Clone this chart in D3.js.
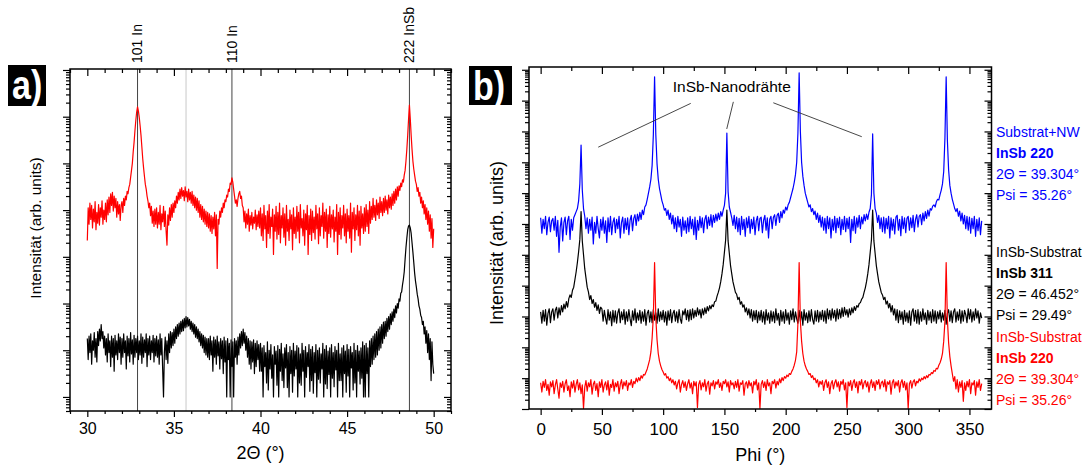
<!DOCTYPE html>
<html>
<head>
<meta charset="utf-8">
<script src="https://cdn.jsdelivr.net/npm/d3@7/dist/d3.min.js"></script>
<style>
  body { margin: 0; background: #fff; }
  text { font-family: "Liberation Sans", Arial, sans-serif; }
</style>
</head>
<body>
<svg id="fig" width="1084" height="466"></svg>
<script>
// ---------------- data ----------------
// a) 2Theta scan, one reading every 0.05 deg from 30 to 50 deg, log10 of the counts
var twoTheta = d3.range(0, 401).map(function(i) { return 30 + i / 20; });

var redA = [
  4.35, 5.05, 4.70, 5.15, 4.80, 5.10, 4.62, 5.02, 4.75, 5.18, 4.58, 4.95, 4.72, 5.12, 4.68, 5.05, 4.85, 5.20, 4.70, 5.00,
  4.80, 5.15, 4.75, 5.22, 4.90, 5.28, 4.95, 5.35, 5.10, 5.38, 4.98, 5.30, 5.05, 5.25, 4.85, 5.18, 4.92, 5.12, 4.78, 5.10,
  5.18, 4.95, 5.25, 5.10, 5.30, 5.22, 5.40, 5.35, 5.48, 5.55, 5.70, 5.85, 6.00, 6.25, 6.45, 6.70, 6.92, 7.10, 7.21, 7.12,
  6.98, 6.80, 6.60, 6.35, 6.10, 5.90, 5.72, 5.55, 5.45, 5.30, 5.20, 5.05, 5.15, 4.88, 5.08, 4.72, 4.98, 4.65, 5.02, 4.70,
  5.05, 4.62, 4.95, 4.70, 5.10, 4.58, 4.92, 4.75, 5.08, 4.65, 4.98, 4.55, 4.25, 4.90, 4.68, 5.05, 4.78, 5.12, 4.85, 5.15,
  4.95, 5.20, 5.05, 5.30, 5.15, 5.38, 5.22, 5.45, 5.25, 5.48, 5.30, 5.42, 5.20, 5.50, 5.28, 5.40, 5.18, 5.45, 5.22, 5.38,
  5.15, 5.40, 5.10, 5.32, 5.05, 5.28, 5.00, 5.25, 4.95, 5.20, 4.85, 5.12, 4.80, 5.08, 4.75, 5.02, 4.70, 4.98, 4.65, 4.95,
  4.62, 4.92, 4.55, 4.88, 4.50, 4.85, 4.60, 4.95, 4.45, 4.90, 3.75, 4.80, 4.70, 4.98, 4.85, 5.05, 4.95, 5.15, 5.05, 5.22,
  5.18, 5.32, 5.28, 5.45, 5.40, 5.58, 5.55, 5.69, 5.60, 5.45, 5.30, 5.15, 5.22, 5.08, 5.25, 5.35, 5.40, 5.25, 5.30, 5.10,
  5.05, 4.75, 4.98, 4.62, 4.92, 4.70, 5.02, 4.55, 4.88, 4.68, 4.95, 4.60, 4.85, 4.72, 5.00, 4.58, 4.90, 4.65, 4.98, 4.62,
  5.05, 4.45, 4.92, 4.35, 5.10, 4.60, 4.88, 4.20, 4.98, 4.50, 5.12, 4.40, 4.85, 4.65, 5.02, 4.05, 4.90, 4.55, 5.08, 4.38,
  4.95, 4.48, 5.15, 4.30, 4.88, 4.62, 5.05, 4.42, 4.92, 4.25, 5.10, 4.55, 4.80, 4.35, 5.00, 4.60, 4.90, 4.15, 5.05, 4.50,
  4.85, 4.40, 5.08, 4.55, 4.95, 4.30, 5.12, 4.62, 4.82, 4.45, 5.00, 4.25, 4.92, 4.58, 5.10, 4.05, 4.88, 4.48, 5.02, 4.35,
  4.98, 4.52, 4.85, 4.38, 5.10, 4.60, 4.92, 4.28, 5.05, 4.45, 4.88, 4.65, 5.15, 4.40, 4.95, 4.55, 5.02, 4.20, 4.90, 4.50,
  5.08, 4.42, 4.90, 4.60, 5.00, 4.32, 4.85, 4.55, 5.12, 4.05, 4.95, 4.48, 5.05, 4.38, 4.88, 4.62, 5.10, 4.45, 4.92, 4.30,
  5.02, 4.55, 4.88, 4.40, 5.15, 4.10, 4.95, 4.60, 5.05, 4.35, 4.90, 4.58, 5.10, 4.45, 4.98, 4.25, 5.08, 4.62, 4.92, 4.50,
  5.05, 4.55, 5.12, 4.65, 5.00, 4.50, 5.18, 4.72, 5.08, 4.80, 5.25, 4.85, 5.10, 4.78, 5.22, 4.90, 5.15, 4.82, 5.28, 4.95,
  5.18, 4.88, 5.25, 4.95, 5.30, 5.00, 5.22, 4.92, 5.32, 5.05, 5.28, 5.02, 5.35, 5.10, 5.40, 5.15, 5.45, 5.22, 5.50, 5.30,
  5.52, 5.42, 5.58, 5.50, 5.65, 5.60, 5.75, 5.85, 6.05, 6.30, 6.60, 6.95, 7.25, 6.95, 6.60, 6.30, 6.05, 5.88, 5.75, 5.62,
  5.55, 5.40, 5.48, 5.30, 5.38, 5.15, 5.28, 5.05, 5.20, 4.92, 5.12, 4.80, 5.05, 4.70, 4.98, 4.55, 4.90, 4.40, 4.82, 4.20,
  4.60
];

var blackA = [
  2.25, 1.80, 2.30, 1.95, 2.35, 1.70, 2.20, 2.00, 2.38, 1.85, 2.25, 1.75, 2.40, 2.10, 2.45, 2.20, 2.55, 2.25, 2.40, 2.05,
  2.30, 1.90, 2.25, 1.75, 2.35, 1.95, 2.20, 1.65, 2.30, 1.85, 2.25, 1.55, 2.32, 1.90, 2.20, 1.80, 2.35, 1.95, 2.28, 1.70,
  2.25, 1.85, 2.35, 1.95, 2.20, 1.60, 2.30, 1.88, 2.25, 1.75, 2.38, 1.92, 2.22, 1.70, 2.32, 1.85, 2.25, 1.95, 2.30, 1.80,
  2.20, 1.90, 2.35, 1.72, 2.28, 1.85, 2.22, 1.95, 2.35, 1.65, 2.25, 1.90, 2.30, 1.80, 2.20, 1.95, 2.32, 1.75, 2.25, 1.88,
  2.30, 1.85, 2.22, 1.70, 2.35, 1.90, 2.25, 1.60, 1.00, 1.95, 2.28, 1.80, 2.20, 1.72, 2.35, 1.95, 2.40, 2.05, 2.38, 2.10,
  2.45, 2.15, 2.50, 2.25, 2.55, 2.30, 2.58, 2.35, 2.62, 2.40, 2.65, 2.42, 2.68, 2.48, 2.72, 2.50, 2.70, 2.52, 2.66, 2.45,
  2.62, 2.40, 2.58, 2.35, 2.55, 2.28, 2.50, 2.25, 2.45, 2.18, 2.40, 2.10, 2.35, 2.05, 2.32, 1.95, 2.28, 1.90, 2.25, 1.85,
  2.25, 1.80, 2.30, 1.90, 2.20, 1.55, 2.28, 1.85, 2.22, 1.70, 2.30, 1.88, 2.18, 1.60, 2.25, 1.82, 2.20, 1.50, 2.28, 1.75,
  2.20, 1.00, 2.25, 1.80, 2.15, 1.00, 2.22, 1.65, 2.18, 1.00, 2.25, 1.85, 2.20, 1.70, 2.28, 1.90, 2.35, 2.05, 2.40, 2.10,
  2.45, 2.15, 2.38, 2.00, 2.30, 1.85, 2.25, 1.70, 2.20, 1.60, 2.18, 1.75, 2.22, 1.50, 2.15, 1.65, 2.20, 1.80, 2.12, 1.55,
  2.15, 1.55, 2.05, 1.00, 2.10, 1.65, 1.95, 1.30, 2.18, 1.15, 2.00, 1.60, 2.12, 1.40, 1.90, 1.00, 2.08, 1.70, 1.98, 1.25,
  2.10, 1.00, 2.02, 1.55, 2.15, 1.35, 1.92, 1.20, 2.05, 1.62, 2.12, 1.20, 1.95, 1.00, 2.08, 1.50, 2.00, 1.10, 2.15, 1.45,
  1.98, 1.60, 2.10, 1.00, 2.05, 1.30, 1.92, 1.25, 2.15, 1.55, 2.00, 1.00, 2.08, 1.42, 1.95, 1.65, 2.12, 1.12, 2.02, 1.35,
  2.08, 1.08, 1.95, 1.52, 2.12, 1.00, 2.00, 1.38, 2.05, 1.30, 1.92, 1.60, 2.15, 1.00, 2.02, 1.28, 2.10, 1.18, 1.98, 1.48,
  2.05, 1.00, 2.12, 1.40, 1.95, 1.22, 2.08, 1.58, 2.00, 1.00, 2.15, 1.35, 1.92, 1.35, 2.05, 1.00, 2.10, 1.50, 1.98, 1.10,
  2.12, 1.45, 2.02, 1.00, 2.08, 1.62, 1.95, 1.15, 2.15, 1.30, 2.00, 1.00, 2.10, 1.55, 1.98, 1.28, 2.05, 1.40, 2.18, 1.00,
  2.10, 1.00, 2.15, 1.50, 2.05, 1.00, 2.20, 1.65, 2.25, 1.70, 2.30, 1.80, 2.35, 1.85, 2.40, 1.90, 2.45, 2.00, 2.50, 2.05,
  2.55, 2.15, 2.60, 2.25, 2.62, 2.30, 2.68, 2.40, 2.72, 2.45, 2.78, 2.55, 2.82, 2.62, 2.88, 2.70, 2.95, 2.80, 3.00, 2.90,
  3.10, 3.05, 3.22, 3.25, 3.40, 3.52, 3.68, 3.95, 4.20, 4.40, 4.58, 4.66, 4.68, 4.62, 4.50, 4.30, 4.10, 3.88, 3.65, 3.48,
  3.35, 3.20, 3.10, 2.95, 2.88, 2.75, 2.70, 2.55, 2.62, 2.35, 2.50, 2.15, 2.42, 1.95, 2.35, 1.80, 2.25, 1.35, 2.18, 1.70,
  1.50
];

// reflex markers in a)
var refPos = [32.9, 35.7, 38.35, 48.6];
var refLabel = ["101 In", "", "110 In", "222 InSb"];
var refColor = ["#444", "#c8c8c8", "#444", "#444"];

// b) Phi scans, one reading per degree from 0 to 360 deg, log10 of the counts
var phi = d3.range(0, 361);

var blueB = [
  6.20, 5.70, 6.15, 5.85, 6.25, 5.65, 6.05, 6.22, 5.75, 6.10,
  6.18, 5.80, 6.25, 5.60, 6.12, 5.08, 5.90, 6.20, 5.45, 6.05,
  6.22, 5.65, 6.10, 6.25, 5.50, 6.15, 5.80, 6.20, 6.30, 6.40,
  6.50, 6.75, 7.30, 8.56, 7.10, 6.50, 6.25, 5.85, 6.20, 5.70,
  6.15, 5.80, 6.22, 5.35, 6.05, 5.70, 6.25, 5.85, 5.55, 6.15,
  5.80, 6.22, 5.70, 6.10, 5.40, 6.20, 5.75, 6.25, 5.65, 6.05,
  6.20, 5.72, 6.15, 5.85, 6.25, 5.55, 6.05, 6.22, 5.70, 6.18,
  5.82, 6.20, 5.65, 6.12, 6.28, 5.78, 6.18, 6.30, 5.95, 6.32,
  6.10, 6.38, 6.15, 6.45, 6.30, 6.55, 6.62, 6.80, 7.00, 7.20,
  7.45, 7.90, 8.90, 10.77, 8.90, 7.95, 7.45, 7.15, 6.95, 6.75,
  6.62, 6.45, 6.50, 6.28, 6.45, 6.15, 6.35, 6.00, 6.28, 5.85,
  6.20, 5.75, 6.25, 5.90, 6.15, 5.60, 6.22, 5.80, 6.10, 5.70,
  6.20, 5.75, 6.25, 5.85, 6.15, 5.65, 6.22, 5.50, 6.12, 5.80,
  6.25, 5.88, 6.20, 5.72, 6.15, 6.28, 5.85, 6.22, 5.95, 6.30,
  5.90, 6.28, 6.05, 6.32, 6.10, 6.35, 6.15, 6.40, 6.25, 6.45,
  6.60, 7.00, 8.95, 7.05, 6.55, 6.38, 6.20, 5.95, 6.28, 5.85,
  6.22, 5.75, 6.18, 5.65, 6.25, 5.82, 6.15, 5.60, 6.20, 5.88,
  6.25, 5.70, 6.15, 5.85, 6.22, 5.65, 6.10, 6.25, 5.78, 6.18,
  6.22, 5.72, 6.12, 6.28, 5.80, 6.20, 5.55, 6.15, 6.25, 5.85,
  6.22, 6.30, 5.95, 6.28, 6.35, 6.05, 6.40, 6.20, 6.45, 6.35,
  6.55, 6.45, 6.62, 6.70, 6.85, 7.00, 7.15, 7.35, 7.60, 8.00,
  8.95, 10.90, 9.00, 8.00, 7.55, 7.25, 7.00, 6.85, 6.70, 6.55,
  6.62, 6.40, 6.50, 6.30, 6.42, 6.15, 6.35, 6.05, 6.28, 5.90,
  6.22, 5.80, 6.18, 5.70, 6.25, 5.85, 6.20, 5.55, 6.15, 5.80,
  6.25, 5.72, 6.18, 5.88, 6.22, 5.65, 6.15, 5.82, 6.25, 5.75,
  6.18, 5.85, 6.22, 5.40, 6.15, 5.78, 6.25, 5.70, 6.20, 5.90,
  6.28, 5.85, 6.22, 6.00, 6.30, 6.10, 6.32, 6.15, 6.38, 6.50,
  6.95, 8.92, 7.00, 6.50, 6.35, 6.05, 6.28, 5.85, 6.20, 5.75,
  6.22, 5.70, 6.18, 5.85, 6.25, 5.55, 6.20, 5.80, 6.15, 5.68,
  6.22, 6.28, 5.80, 6.15, 5.62, 6.25, 5.85, 6.20, 5.72, 6.18,
  6.25, 5.80, 6.20, 5.88, 6.28, 5.75, 6.15, 6.30, 5.90, 6.25,
  6.30, 5.98, 6.35, 6.10, 6.40, 6.18, 6.45, 6.25, 6.50, 6.45,
  6.58, 6.62, 6.55, 6.72, 6.80, 6.78, 6.95, 7.10, 7.30, 7.70,
  8.80, 10.77, 8.70, 7.75, 7.25, 7.00, 6.80, 6.65, 6.50, 6.40,
  6.50, 6.25, 6.42, 6.10, 6.35, 6.00, 6.28, 5.85, 6.25, 5.80,
  6.22, 5.70, 6.18, 5.85, 6.25, 5.60, 6.15, 5.78, 6.20, 5.65,
  6.10
];

var blackB = [
  3.15, 2.78, 3.20, 2.85, 3.22, 2.72, 3.10, 3.25, 2.80, 3.15,
  3.25, 2.88, 3.20, 3.30, 2.95, 3.28, 3.05, 3.35, 3.15, 3.40,
  3.25, 3.48, 3.30, 3.58, 3.70, 3.62, 3.85, 3.95, 4.20, 4.45,
  4.75, 5.10, 5.50, 6.40, 5.45, 5.00, 4.55, 4.25, 3.95, 3.80,
  3.55, 3.68, 3.42, 3.55, 3.30, 3.45, 3.20, 3.38, 3.10, 3.30,
  3.25, 2.85, 3.20, 2.95, 2.75, 3.22, 2.88, 3.15, 2.70, 3.20,
  2.82, 3.18, 2.78, 3.12, 3.25, 2.80, 3.15, 2.90, 3.22, 2.75,
  3.15, 2.85, 3.22, 2.92, 2.70, 3.18, 2.88, 3.25, 2.80, 3.12,
  2.88, 3.20, 2.78, 3.15, 2.85, 3.22, 2.72, 3.10, 3.20, 2.82,
  3.15, 2.80, 3.22, 2.88, 3.12, 2.78, 3.25, 2.85, 3.15, 2.90,
  3.20, 2.82, 3.15, 2.72, 3.18, 2.88, 3.22, 2.80, 3.10, 3.20,
  2.85, 3.15, 2.80, 3.22, 2.92, 2.78, 3.18, 3.05, 3.25, 2.90,
  3.20, 2.85, 3.22, 2.90, 3.25, 2.95, 3.20, 3.00, 3.28, 3.05,
  3.22, 2.95, 3.25, 3.05, 3.28, 3.10, 3.32, 3.18, 3.35, 3.25,
  3.38, 3.32, 3.48, 3.50, 3.66, 3.78, 3.93, 4.13, 4.38, 4.68,
  5.08, 5.48, 6.45, 5.45, 5.05, 4.65, 4.38, 4.12, 3.95, 3.78,
  3.72, 3.55, 3.62, 3.40, 3.48, 3.30, 3.38, 3.15, 3.28, 3.05,
  3.25, 2.95, 3.22, 2.85, 3.18, 2.90, 3.20, 2.80, 3.15, 2.88,
  3.20, 2.82, 3.15, 2.75, 3.22, 2.88, 3.12, 2.78, 3.18, 2.85,
  3.15, 2.80, 3.25, 2.88, 3.10, 2.72, 3.20, 2.85, 3.15, 2.78,
  3.22, 2.88, 3.12, 2.75, 3.18, 2.90, 3.25, 2.82, 3.15, 2.92,
  2.78, 3.20, 2.85, 3.15, 2.72, 3.22, 2.88, 3.12, 2.80, 3.18,
  2.85, 3.22, 2.90, 2.75, 3.18, 2.85, 3.20, 2.82, 3.15, 2.90,
  3.20, 2.85, 3.18, 2.78, 3.25, 2.92, 3.20, 2.88, 3.25, 2.95,
  3.20, 2.85, 3.25, 2.92, 3.22, 2.95, 3.28, 3.00, 3.30, 3.05,
  3.22, 2.98, 3.25, 3.05, 3.28, 3.12, 3.32, 3.20, 3.35, 3.30,
  3.42, 3.45, 3.56, 3.62, 3.78, 3.93, 4.13, 4.38, 4.68, 5.08,
  5.48, 6.45, 5.45, 5.05, 4.65, 4.38, 4.12, 3.95, 3.78, 3.70,
  3.55, 3.62, 3.40, 3.50, 3.28, 3.42, 3.15, 3.35, 3.05, 3.25,
  2.88, 3.22, 2.80, 3.18, 2.90, 3.15, 2.75, 3.20, 2.85, 3.12,
  2.80, 3.18, 2.72, 3.15, 3.25, 2.85, 3.20, 2.78, 3.22, 2.75,
  3.15, 2.85, 3.25, 2.90, 3.12, 2.75, 3.20, 2.88, 3.15, 2.80,
  3.22, 2.85, 3.18, 2.78, 3.15, 2.92, 3.20, 2.82, 3.12, 2.88,
  3.20, 2.75, 3.10, 3.22, 2.85, 3.18, 2.80, 3.15, 3.25, 2.82,
  3.15, 2.88, 3.22, 2.78, 3.18, 2.85, 3.20, 3.05, 2.80, 3.25,
  2.92, 3.22, 2.82, 3.15, 2.88, 3.25, 2.95, 3.18, 2.78, 3.12,
  2.95
];

var redB = [
  0.85, 0.55, 0.90, 0.70, 0.95, 0.60, 0.80, 0.45, 0.88, 0.72,
  0.92, 0.50, 0.78, 0.95, 0.65, 0.35, 0.85, 0.70, 0.90, 0.55,
  0.82, 0.95, 0.60, 0.75, 0.40, 0.88, 0.68, 0.92, 0.55, 0.80,
  0.95, 0.62, 0.85, 0.50, 0.78, 0.02, 0.70, 0.92, 0.58, 0.85,
  0.72, 0.95, 0.48, 0.80, 0.90, 0.60, 0.82, 0.40, 0.88, 0.70,
  0.95, 0.55, 0.78, 0.88, 0.62, 0.92, 0.45, 0.80, 0.70, 0.95,
  0.58, 0.85, 0.72, 0.90, 0.50, 0.80, 0.95, 0.65, 0.88, 0.75,
  0.92, 0.60, 0.85, 0.78, 0.95, 0.70, 0.90, 0.82, 1.00, 0.88,
  1.02, 0.92, 1.08, 1.00, 1.12, 1.10, 1.20, 1.30, 1.45, 1.60,
  1.85, 2.30, 3.00, 4.75, 2.95, 2.25, 1.80, 1.55, 1.40, 1.28,
  1.20, 1.10, 1.15, 1.00, 1.05, 0.92, 1.00, 0.85, 0.95, 0.78,
  0.90, 0.65, 0.85, 0.95, 0.55, 0.80, 0.92, 0.70, 0.88, 0.60,
  0.82, 0.95, 0.68, 0.85, 0.50, 0.90, 0.75, 0.88, 0.05, 0.80,
  0.92, 0.62, 0.85, 0.72, 0.95, 0.58, 0.82, 0.90, 0.48, 0.85,
  0.75, 0.92, 0.65, 0.88, 0.80, 0.95, 0.70, 0.85, 0.60, 0.90,
  0.82, 0.95, 0.72, 0.88, 0.55, 0.92, 0.78, 0.85, 0.65, 0.90,
  0.70, 0.95, 0.58, 0.85, 0.80, 0.92, 0.45, 0.82, 0.88, 0.68,
  0.92, 0.75, 0.85, 0.52, 0.90, 0.78, 0.95, 0.62, 0.85, 0.02,
  0.80, 0.92, 0.70, 0.88, 0.60, 0.95, 0.75, 0.85, 0.50, 0.90,
  0.82, 0.95, 0.68, 0.90, 0.78, 0.98, 0.85, 1.02, 0.92, 1.05,
  1.00, 1.10, 1.05, 1.15, 1.12, 1.22, 1.30, 1.42, 1.58, 1.85,
  2.80, 4.75, 2.85, 2.20, 1.80, 1.55, 1.40, 1.30, 1.22, 1.12,
  1.15, 1.02, 1.08, 0.95, 1.00, 0.85, 0.95, 0.72, 0.90, 0.80,
  0.92, 0.60, 0.85, 0.95, 0.70, 0.88, 0.50, 0.82, 0.92, 0.65,
  0.85, 0.95, 0.72, 0.88, 0.58, 0.90, 0.80, 0.95, 0.62, 0.85,
  0.05, 0.88, 0.75, 0.92, 0.60, 0.85, 0.95, 0.70, 0.88, 0.52,
  0.90, 0.78, 0.95, 0.65, 0.85, 0.92, 0.72, 0.88, 0.55, 0.82,
  0.95, 0.70, 0.88, 0.60, 0.92, 0.80, 0.95, 0.65, 0.85, 0.90,
  0.72, 0.95, 0.58, 0.88, 0.80, 0.92, 0.48, 0.85, 0.95, 0.68,
  0.88, 0.75, 0.92, 0.55, 0.85, 0.95, 0.70, 0.90, 0.62, 0.85,
  0.02, 0.82, 0.92, 0.68, 0.88, 0.95, 0.75, 0.90, 0.85, 0.98,
  0.90, 1.00, 0.95, 1.05, 0.98, 1.08, 1.02, 1.12, 1.10, 1.18,
  1.15, 1.25, 1.22, 1.32, 1.30, 1.42, 1.50, 1.62, 1.80, 2.20,
  2.85, 4.75, 2.90, 2.15, 1.70, 1.40, 1.15, 0.90, 1.05, 0.65,
  0.95, 0.55, 0.88, 0.70, 0.92, 0.25, 0.85, 0.60, 0.90, 0.72,
  0.95, 0.50, 0.85, 0.78, 0.92, 0.45, 0.88, 0.70, 0.95, 0.60,
  0.82
];

// legend texts in b) (second line bold)
var blueText = ["Substrat+NW", "InSb 220", "2\u0398 = 39.304\u00b0", "Psi = 35.26\u00b0"];
var blackText = ["InSb-Substrat", "InSb 311", "2\u0398 = 46.452\u00b0", "Psi = 29.49\u00b0"];
var redText = ["InSb-Substrat", "InSb 220", "2\u0398 = 39.304\u00b0", "Psi = 35.26\u00b0"];

// annotation in b): label anchor and leader lines [phiFrom, logFrom, phiTo, logTo]
var noteText = "InSb-Nanodr\u00e4hte";
var noteAt = [156, 10.44];
var noteLinks = [[122.5, 9.91, 47, 8.49], [157.3, 9.96, 151.9, 9.08], [189.9, 9.93, 262.1, 8.83]];

// ---------------- layout ----------------
var svg = d3.select("#fig");
var pa = {left: 70, right: 451, top: 69, bottom: 411};
var pb = {left: 529, right: 991.5, top: 67, bottom: 409};

var xa = d3.scaleLinear().domain([29, 51]).range([pa.left, pa.right]);
var ya = d3.scaleLog().domain([5, 1.05e8]).range([pa.bottom, pa.top]);
var xb = d3.scaleLinear().domain([-9.5, 368]).range([pb.left, pb.right]);
var yb = d3.scaleLog().domain([1, 1.23e11]).range([pb.bottom, pb.top]);

// decade (m == 1) or minor (m = 2..9) log ticks inside the domain
function logTicks(scale, minor) {
  var d = scale.domain(), out = [];
  for (var k = Math.floor(Math.log10(d[0])); k <= Math.ceil(Math.log10(d[1])); k++) {
    for (var m = 1; m <= 9; m++) {
      var v = m * Math.pow(10, k);
      if (v >= d[0] && v <= d[1] && ((m != 1) == minor)) out.push(v);
    }
  }
  return out;
}

function addAxis(axis, tx, ty, fontSize) {
  var g = svg.append("g").attr("transform", "translate(" + tx + "," + ty + ")").call(axis);
  g.select(".domain").remove();
  g.selectAll("line").attr("stroke", "#000").attr("stroke-width", 1.2);
  g.selectAll("text").attr("fill", "#000").style("font-size", fontSize + "px")
    .style("font-family", '"Liberation Sans", Arial, sans-serif');
  return g;
}

function drawFrame(p, x, y, xMajor, xMinor, fontSize, pad) {
  // bottom (outward, labelled)
  addAxis(d3.axisBottom(x).tickValues(xMajor).tickSize(6).tickPadding(pad).tickFormat(d3.format("d")), 0, p.bottom, fontSize);
  addAxis(d3.axisBottom(x).tickValues(xMinor).tickSize(3).tickFormat(""), 0, p.bottom, fontSize);
  // top (inward)
  addAxis(d3.axisBottom(x).tickValues(xMajor).tickSize(7).tickFormat(""), 0, p.top, fontSize);
  addAxis(d3.axisBottom(x).tickValues(xMinor).tickSize(4).tickFormat(""), 0, p.top, fontSize);
  // left (outward) and right (inward), log ticks
  addAxis(d3.axisLeft(y).tickValues(logTicks(y, false)).tickSize(7).tickFormat(""), p.left, 0, fontSize);
  addAxis(d3.axisLeft(y).tickValues(logTicks(y, true)).tickSize(4).tickFormat(""), p.left, 0, fontSize);
  addAxis(d3.axisLeft(y).tickValues(logTicks(y, false)).tickSize(7).tickFormat(""), p.right, 0, fontSize);
  addAxis(d3.axisLeft(y).tickValues(logTicks(y, true)).tickSize(4).tickFormat(""), p.right, 0, fontSize);

  svg.append("rect")
    .attr("x", p.left).attr("y", p.top)
    .attr("width", p.right - p.left).attr("height", p.bottom - p.top)
    .attr("fill", "none").attr("stroke", "#000").attr("stroke-width", 1.5);
}

function panelTag(label, x, y, w, h) {
  svg.append("rect").attr("x", x).attr("y", y).attr("width", w).attr("height", h).attr("fill", "#000");
  svg.append("text")
    .attr("transform", "translate(" + (x + 4) + "," + (y + 34) + ") scale(1,1.2)")
    .attr("fill", "#fff").style("font-size", "34px").style("font-weight", "bold")
    .text(label);
}

// ---------------- panel a ----------------
svg.selectAll(".refline").data(refPos).enter().append("line")
  .attr("x1", function(d) { return xa(d); }).attr("x2", function(d) { return xa(d); })
  .attr("y1", pa.top).attr("y2", pa.bottom)
  .attr("stroke", function(d, i) { return refColor[i]; }).attr("stroke-width", 1);

svg.selectAll(".reflabel").data(refPos).enter().append("text")
  .attr("transform", function(d) { return "translate(" + xa(d) + "," + (pa.top - 6) + ") rotate(-90)"; })
  .attr("dy", "0.35em").style("font-size", "14px")
  .text(function(d, i) { return refLabel[i]; });

var lineA = d3.line()
  .x(function(d, i) { return xa(twoTheta[i]); })
  .y(function(d) { return ya(Math.pow(10, d)); });

svg.append("path").datum(blackA).attr("d", lineA)
  .attr("fill", "none").attr("stroke", "#000").attr("stroke-width", 1.2).attr("stroke-linejoin", "round");
svg.append("path").datum(redA).attr("d", lineA)
  .attr("fill", "none").attr("stroke", "#ff0000").attr("stroke-width", 1.2).attr("stroke-linejoin", "round");

drawFrame(pa, xa, ya, d3.range(30, 51, 5), d3.range(29, 52).filter(function(d) { return d % 5 != 0; }), 16, 6);

svg.append("text").attr("x", (pa.left + pa.right) / 2).attr("y", 459)
  .attr("text-anchor", "middle").style("font-size", "18px").text("2\u0398 (\u00b0)");
svg.append("text").attr("transform", "translate(36," + ((pa.top + pa.bottom) / 2 - 12) + ") rotate(-90)")
  .attr("text-anchor", "middle").attr("dy", "0.35em").style("font-size", "15.5px")
  .text("Intensit\u00e4t (arb. units)");

panelTag("a)", 8, 65, 38, 41);

// ---------------- panel b ----------------
var lineB = d3.line()
  .x(function(d, i) { return xb(phi[i]); })
  .y(function(d) { return yb(Math.pow(10, d)); });

svg.append("path").datum(blackB).attr("d", lineB)
  .attr("fill", "none").attr("stroke", "#000").attr("stroke-width", 1.2).attr("stroke-linejoin", "round");
svg.append("path").datum(blueB).attr("d", lineB)
  .attr("fill", "none").attr("stroke", "#0000ff").attr("stroke-width", 1.2).attr("stroke-linejoin", "round");
svg.append("path").datum(redB).attr("d", lineB)
  .attr("fill", "none").attr("stroke", "#ff0000").attr("stroke-width", 1.2).attr("stroke-linejoin", "round");

drawFrame(pb, xb, yb, d3.range(0, 351, 50), d3.range(25, 351, 50), 17, 8);

svg.append("text").attr("x", (pb.left + pb.right) / 2).attr("y", 461)
  .attr("text-anchor", "middle").style("font-size", "18px").text("Phi (\u00b0)");
svg.append("text").attr("transform", "translate(497," + ((pb.top + pb.bottom) / 2 + 5) + ") rotate(-90)")
  .attr("text-anchor", "middle").attr("dy", "0.35em").style("font-size", "18px")
  .text("Intensit\u00e4t (arb. units)");

panelTag("b)", 469, 66, 43, 39);

// annotation
svg.append("text").attr("x", xb(noteAt[0])).attr("y", yb(Math.pow(10, noteAt[1])))
  .attr("text-anchor", "middle").attr("dy", "0.35em").style("font-size", "15.5px").text(noteText);
svg.selectAll(".note").data(noteLinks).enter().append("line")
  .attr("x1", function(d) { return xb(d[0]); }).attr("y1", function(d) { return yb(Math.pow(10, d[1])); })
  .attr("x2", function(d) { return xb(d[2]); }).attr("y2", function(d) { return yb(Math.pow(10, d[3])); })
  .attr("stroke", "#333").attr("stroke-width", 0.9);

// legend blocks
function legendBlock(lines, color, y0) {
  lines.forEach(function(t, i) {
    svg.append("text").attr("x", 996).attr("y", y0 + i * 21)
      .attr("fill", color).style("font-size", "14px")
      .style("font-weight", i == 1 ? "bold" : "normal").text(t);
  });
}
legendBlock(blueText, "#0000ff", 137);
legendBlock(blackText, "#000", 257);
legendBlock(redText, "#ff0000", 342);
</script>
</body>
</html>
